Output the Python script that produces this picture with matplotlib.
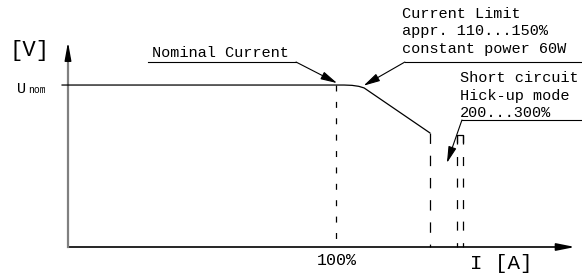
import matplotlib
matplotlib.use("Agg")
import matplotlib.pyplot as plt

# schematic U/I characteristic, values in % of nominal
curve_current = [-2.2, 0, 103, 106, 108.5, 110.5, 135]
curve_voltage = [100, 100, 100, 99.8, 99.2, 98.2, 70.5]

nominal_current = 100
limit_current = 135
limit_voltage = 70.5
hiccup_current = [145.2, 147.4]
hiccup_voltage = 69

x_axis_end = 189.2
y_axis_end = 126.5

FONT = "Liberation Mono"
plt.rcParams["lines.scale_dashes"] = False

fig = plt.figure(figsize=(5.82, 2.74), dpi=100)
ax = fig.add_axes([0, 0, 1, 1])
ax.set_xlim(-25.37, 191.8)
ax.set_ylim(-16.67, 152.5)
ax.axis("off")

# axes with arrow heads
ax.plot([0, x_axis_end - 6], [0, 0], color="black", lw=1.2)
ax.annotate("", xy=(x_axis_end, 0), xytext=(x_axis_end - 7, 0),
            arrowprops=dict(arrowstyle="-|>,head_length=1.1,head_width=0.22",
                            color="black", lw=1.2, shrinkA=0, shrinkB=0))
ax.plot([0, 0], [0, y_axis_end - 10], color="#808080", lw=1.6)
ax.annotate("", xy=(0, y_axis_end), xytext=(0, y_axis_end - 12),
            arrowprops=dict(arrowstyle="-|>,head_length=1.1,head_width=0.2",
                            color="black", lw=1.0, shrinkA=0, shrinkB=0))

# characteristic curve
ax.plot(curve_current, curve_voltage, color="black", lw=0.9)

# dashed verticals
ax.plot([nominal_current, nominal_current], [100, 0], color="black", lw=0.9,
        dashes=(4.3, 7.5))
ax.plot([limit_current, limit_current], [limit_voltage, 0], color="black", lw=0.9,
        dashes=(7.5, 8.5))
for hc in hiccup_current:
    ax.plot([hc, hc], [hiccup_voltage, 0], color="black", lw=0.9, dashes=(6.5, 9))
ax.plot([hiccup_current[0], hiccup_current[0], hiccup_current[1], hiccup_current[1]],
        [hiccup_voltage - 4, hiccup_voltage, hiccup_voltage, hiccup_voltage - 4],
        color="black", lw=0.9)

arrow = dict(arrowstyle="-|>,head_length=1.0,head_width=0.25", color="black",
             lw=0.8, shrinkA=0, shrinkB=0)

# Nominal Current leader
ax.plot([29.9, 85.1], [114.2, 114.2], color="black", lw=0.8)
ax.annotate("", xy=(100.4, 101.2), xytext=(85.1, 114.2), arrowprops=arrow)
ax.text(31.3, 117.3, "Nominal Current", fontsize=11, family=FONT, va="baseline")

# Current limit leader
ax.plot([125.7, 191.8], [114.2, 114.2], color="black", lw=0.8)
ax.annotate("", xy=(110.3, 99.6), xytext=(125.7, 114.2), arrowprops=arrow)
for txt, yy in zip(["Current Limit", "appr. 110...150%", "constant power 60W"],
                   [141.4, 130.9, 119.8]):
    ax.text(124.6, yy, txt, fontsize=11, family=FONT, va="baseline")

# Short circuit leader
ax.plot([147.0, 191.8], [78.4, 78.4], color="black", lw=0.8)
ax.annotate("", xy=(141.4, 51.9), xytext=(147.0, 78.4), arrowprops=arrow)
for txt, yy in zip(["Short circuit", "Hick-up mode", "200...300%"],
                   [101.9, 90.7, 80.2]):
    ax.text(146.3, yy, txt, fontsize=11, family=FONT, va="baseline")

# axis labels
ax.text(-14.2, 121.6, "[V]", fontsize=16, family=FONT, ha="center", va="center")
ax.text(-19.0, 95.0, "U", fontsize=11, family=FONT, va="baseline")
ax.text(-15.0, 95.0, "nom", fontsize=7, family=FONT, va="baseline")
ax.text(100.4, -8.6, "100%", fontsize=12, family=FONT, ha="center", va="center")
ax.text(161.6, -13.4, "I [A]", fontsize=15, family=FONT, ha="center", va="baseline")

fig.savefig("out.png", dpi=100)
